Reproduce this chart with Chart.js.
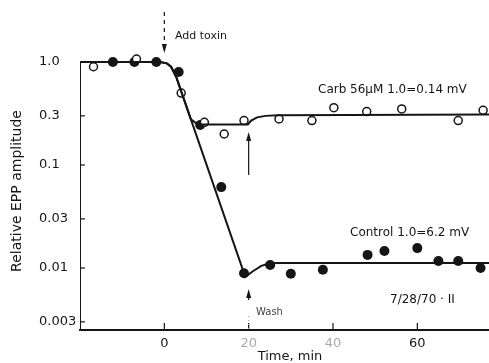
<!DOCTYPE html>
<html>
<head>
<meta charset="utf-8">
<script src="https://cdn.jsdelivr.net/npm/chart.js@4/dist/chart.umd.min.js"></script>
<style>
  body { margin: 0; background: #fff; }
  #wrap { width: 489px; height: 363px; }
</style>
</head>
<body>
<div id="wrap"><canvas id="epp"></canvas></div>
<script>
// time in min, relative EPP amplitude (log)
const carbTimes = [-16.8, -6.6, 4.0, 9.5, 14.2, 18.9, 27.2, 35.0, 40.2, 48.0, 56.3, 69.7, 75.6]
const carbValues = [0.90, 1.07, 0.50, 0.26, 0.20, 0.27, 0.28, 0.27, 0.36, 0.33, 0.35, 0.27, 0.34]

const controlTimes = [-12.2, -7.1, -1.9, 3.4, 8.5, 13.5, 18.9, 25.1, 30.0, 37.6, 48.2, 52.2, 60.0, 65.0, 69.7, 75.0]
const controlValues = [1.0, 1.0, 1.0, 0.80, 0.245, 0.061, 0.0089, 0.0107, 0.0088, 0.0096, 0.0134, 0.0146, 0.0156, 0.0117, 0.0117, 0.0100]

// fitted curves as drawn in the figure
const carbFitTimes = [-20, -20, -1, 0.6, 1.6, 2.8, 6.3, 7.5, 9, 19.8, 20.6, 22, 24, 27, 77]
const carbFitValues = [0.0025, 1.0, 1.0, 0.97, 0.9, 0.72, 0.278, 0.255, 0.248, 0.248, 0.27, 0.29, 0.30, 0.305, 0.31]
const controlFitTimes = [-1, 0.6, 1.6, 2.8, 19.2, 21, 23, 25, 27, 77]
const controlFitValues = [1.0, 0.97, 0.9, 0.72, 0.0082, 0.0093, 0.0105, 0.0111, 0.0112, 0.0112]

const xTicks = [0, 20, 40, 60]
const xTickLabels = ['0', '20', '40', '60']
const yTicks = [1.0, 0.3, 0.1, 0.03, 0.01, 0.003]
const yTickLabels = ['1.0', '0.3', '0.1', '0.03', '0.01', '0.003']

const toPoints = (xs, ys) => xs.map((x, i) => ({ x: x, y: ys[i] }))

const FONT = '"DejaVu Sans", sans-serif'
const INK = '#151515'

function arrowHead(ctx, x, tipY, dir) {
  // dir 1 = pointing down, -1 = pointing up
  ctx.beginPath()
  ctx.moveTo(x, tipY)
  ctx.lineTo(x - 2.5, tipY - dir * 9)
  ctx.lineTo(x + 2.5, tipY - dir * 9)
  ctx.closePath()
  ctx.fill()
}

const extras = {
  id: 'extras',
  afterDraw(chart) {
    const ctx = chart.ctx
    const xs = chart.scales.x
    const ys = chart.scales.y
    ctx.save()
    ctx.strokeStyle = INK
    ctx.fillStyle = INK
    ctx.lineWidth = 1.2

    // inward tick marks
    yTicks.slice(1).forEach((v) => {
      const py = ys.getPixelForValue(v)
      ctx.beginPath()
      ctx.moveTo(xs.left, py)
      ctx.lineTo(xs.left + 5, py)
      ctx.stroke()
    })
    xTicks.forEach((v) => {
      const px = xs.getPixelForValue(v)
      ctx.beginPath()
      ctx.moveTo(px, ys.bottom)
      ctx.lineTo(px, ys.bottom - 7)
      ctx.stroke()
    })

    // add toxin arrow
    const x0 = xs.getPixelForValue(0)
    ctx.setLineDash([4, 4])
    ctx.beginPath()
    ctx.moveTo(x0, 12)
    ctx.lineTo(x0, 46)
    ctx.stroke()
    ctx.setLineDash([])
    arrowHead(ctx, x0, 53, 1)

    // wash arrows
    const x20 = xs.getPixelForValue(20)
    ctx.beginPath()
    ctx.moveTo(x20, 138)
    ctx.lineTo(x20, 175)
    ctx.stroke()
    arrowHead(ctx, x20, 132, -1)
    ctx.beginPath()
    ctx.moveTo(x20, 295)
    ctx.lineTo(x20, 300)
    ctx.stroke()
    arrowHead(ctx, x20, 289, -1)
    ctx.strokeStyle = '#aaa'
    ctx.setLineDash([1, 3])
    ctx.beginPath()
    ctx.moveTo(x20, 316)
    ctx.lineTo(x20, 330)
    ctx.stroke()
    ctx.setLineDash([])

    // labels
    ctx.textBaseline = 'middle'
    ctx.textAlign = 'left'
    ctx.font = '11px ' + FONT
    ctx.fillText('Add toxin', 175, 36)
    ctx.font = '12px ' + FONT
    ctx.fillText('Carb 56\u03bcM 1.0=0.14 mV', 318, 90)
    ctx.fillText('Control 1.0=6.2 mV', 350, 233)
    ctx.fillText('7/28/70 \u00b7 II', 390, 300)
    ctx.font = '10px ' + FONT
    ctx.fillStyle = '#444'
    ctx.fillText('Wash', 256, 312)

    // axis titles
    ctx.fillStyle = INK
    ctx.font = '13px ' + FONT
    ctx.textAlign = 'center'
    ctx.fillText('Time, min', 290, 357)
    ctx.translate(17, 191)
    ctx.rotate(-Math.PI / 2)
    ctx.font = '14px ' + FONT
    ctx.fillText('Relative EPP amplitude', 0, 0)
    ctx.restore()
  },
}

new Chart(document.getElementById('epp'), {
  type: 'scatter',
  data: {
    datasets: [
      {
        type: 'line',
        data: toPoints(carbFitTimes, carbFitValues),
        borderColor: INK,
        borderWidth: 2,
        pointRadius: 0,
        tension: 0,
        fill: false,
      },
      {
        type: 'line',
        data: toPoints(controlFitTimes, controlFitValues),
        borderColor: INK,
        borderWidth: 2,
        pointRadius: 0,
        tension: 0,
        fill: false,
      },
      {
        label: 'Carb',
        data: toPoints(carbTimes, carbValues),
        pointRadius: 4,
        pointBorderWidth: 1.5,
        pointBackgroundColor: '#fff',
        pointBorderColor: INK,
      },
      {
        label: 'Control',
        data: toPoints(controlTimes, controlValues),
        pointRadius: 5,
        pointBorderWidth: 0,
        pointBackgroundColor: INK,
        pointBorderColor: INK,
      },
    ],
  },
  options: {
    responsive: true,
    maintainAspectRatio: false,
    animation: false,
    layout: { autoPadding: false, padding: { left: 39, top: 41, right: 0, bottom: 0 } },
    plugins: {
      legend: { display: false },
      tooltip: { enabled: false },
    },
    scales: {
      x: {
        type: 'linear',
        min: -20,
        max: 77,
        afterBuildTicks: (scale) => {
          scale.ticks = xTicks.map((v) => ({ value: v }))
        },
        afterFit: (scale) => {
          scale.height = 33
        },
        grid: { display: false, drawTicks: false },
        border: { display: true, color: INK, width: 2 },
        ticks: {
          padding: 6,
          color: (c) => (c.index === 1 || c.index === 2 ? '#aaa' : INK),
          font: { family: FONT, size: 13 },
          callback: (value, index) => xTickLabels[index],
        },
      },
      y: {
        type: 'logarithmic',
        min: 0.0025,
        max: 1.6,
        afterBuildTicks: (scale) => {
          scale.ticks = yTicks.map((v) => ({ value: v }))
        },
        afterFit: (scale) => {
          scale.width = 41
        },
        grid: { display: false, drawTicks: false },
        border: { display: false },
        ticks: {
          crossAlign: 'far',
          color: INK,
          font: { family: FONT, size: 13 },
          callback: (value, index) => yTickLabels[index],
        },
      },
    },
  },
  plugins: [extras],
})
</script>
</body>
</html>
